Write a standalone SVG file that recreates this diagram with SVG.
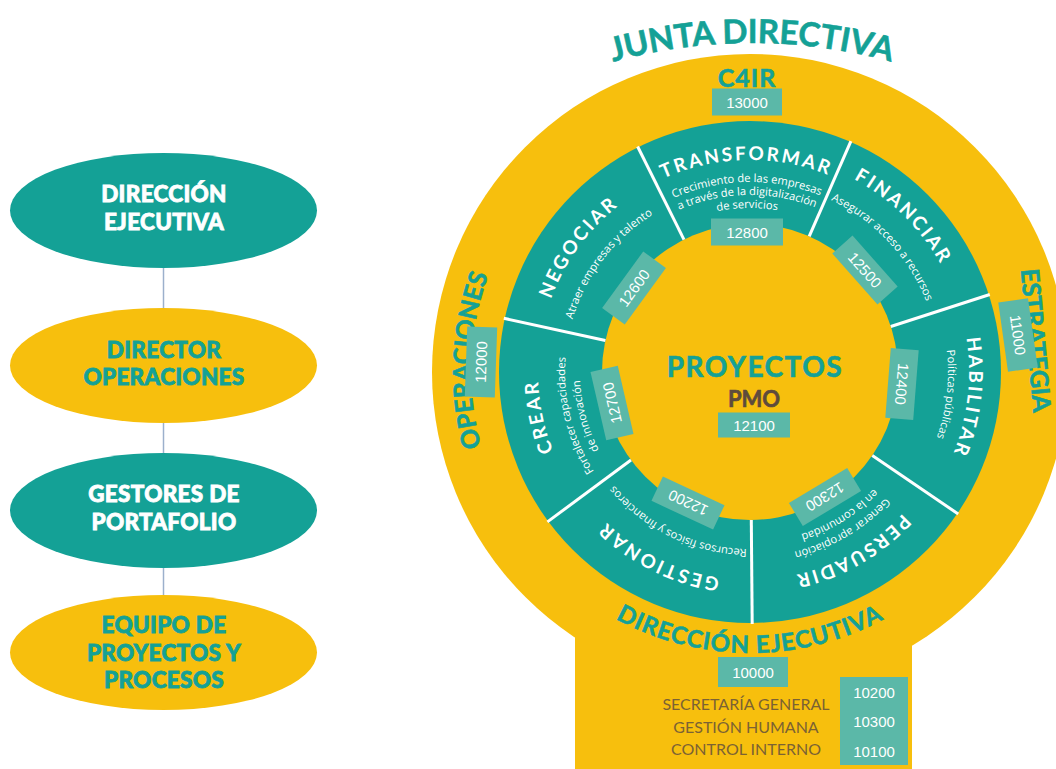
<svg xmlns="http://www.w3.org/2000/svg" width="1056" height="769" viewBox="0 0 1056 769">
<style>
.teal{fill:#14a196}
.yel{fill:#f7bf0d}
.box{fill:#5bb8a8}
.num{font-family:"Liberation Sans",Arial,sans-serif;font-size:15px;fill:#fff;text-anchor:middle}
.ttl{font-family:Lato,"Open Sans",sans-serif;font-weight:700;font-size:19px;fill:#fff;letter-spacing:2.5px}
.sub{font-family:"Open Sans",sans-serif;font-size:11.2px;fill:#fff}
.head{font-family:Lato,"Open Sans",sans-serif;font-weight:700;fill:#14a196;stroke:#14a196;stroke-width:0.6px}
.ell{font-family:Lato,"Open Sans",sans-serif;font-weight:900;font-size:22.5px;text-anchor:middle;letter-spacing:0.3px;stroke-width:0.8px}
.w{fill:#fff;stroke:#fff}
.t{fill:#14a196;stroke:#14a196}
.div{stroke:#fff;stroke-width:3;fill:none}
.conn{stroke:#9cb0cc;stroke-width:1.5;fill:none}
.dept{font-family:Lato,"Open Sans",sans-serif;font-size:16px;fill:#7b6234;text-anchor:middle}
</style>
<defs>
<path id="c164" d="M750,536 A164,164 0 0 1 750,208 A164,164 0 0 1 750,536"/>
<path id="c170" d="M750,542 A170,170 0 0 1 750,202 A170,170 0 0 1 750,542"/>
<path id="c177" d="M750,549 A177,177 0 0 1 750,195 A177,177 0 0 1 750,549"/>
<path id="c185" d="M750,557 A185,185 0 0 1 750,187 A185,185 0 0 1 750,557"/>
<path id="c190" d="M750,562 A190,190 0 0 1 750,182 A190,190 0 0 1 750,562"/>
<path id="c198" d="M750,570 A198,198 0 0 1 750,174 A198,198 0 0 1 750,570"/>
<path id="c208" d="M750,580 A208,208 0 0 1 750,164 A208,208 0 0 1 750,580"/>
<path id="c212" d="M750,584 A212,212 0 0 1 750,160 A212,212 0 0 1 750,584"/>
<path id="c219" d="M750,591 A219,219 0 0 1 750,153 A219,219 0 0 1 750,591"/>
<path id="c279" d="M750,651 A279,279 0 0 1 750,93 A279,279 0 0 1 750,651"/>
<path id="junta" d="M752,1087 A522,522 0 0 1 752,43 A522,522 0 0 1 752,1087"/>
<path id="w281" d="M750,91 A281,281 0 0 0 750,653 A281,281 0 0 0 750,91"/>
</defs>

<!-- connectors of the left hierarchy -->
<g id="connectors">
<line class="conn" x1="163.5" y1="268" x2="163.5" y2="308"/>
<line class="conn" x1="163.5" y1="423" x2="163.5" y2="453"/>
<line class="conn" x1="163.5" y1="568" x2="163.5" y2="595"/>
</g>

<g id="node-direccion-ejecutiva">
<ellipse class="teal" cx="163.5" cy="210.5" rx="153.5" ry="57.5"/>
<text class="ell w"><tspan x="164" y="202">DIRECCIÓN</tspan><tspan x="164" y="230">EJECUTIVA</tspan></text>
</g>
<g id="node-director-operaciones">
<ellipse class="yel" cx="163.5" cy="365.5" rx="153.5" ry="57.5"/>
<text class="ell t"><tspan x="164" y="358">DIRECTOR</tspan><tspan x="164" y="385">OPERACIONES</tspan></text>
</g>
<g id="node-gestores">
<ellipse class="teal" cx="163.5" cy="510.5" rx="153.5" ry="57.5"/>
<text class="ell w"><tspan x="164" y="502">GESTORES DE</tspan><tspan x="164" y="530">PORTAFOLIO</tspan></text>
</g>
<g id="node-equipo">
<ellipse class="yel" cx="163.5" cy="652.5" rx="153.5" ry="57.5"/>
<text class="ell t"><tspan x="164" y="633">EQUIPO DE</tspan><tspan x="164" y="661">PROYECTOS Y</tspan><tspan x="164" y="688">PROCESOS</tspan></text>
</g>

<!-- right wheel -->
<g id="wheel-base">
<circle class="yel" cx="750" cy="372" r="318"/>
<rect class="yel" x="575" y="560" width="337" height="209"/>
<circle class="teal" cx="750" cy="372" r="251"/>
<circle class="yel" cx="750" cy="372" r="148"/>
</g>

<g id="dividers">
<line class="div" x1="684.0" y1="239.6" x2="637.6" y2="146.5"/>
<line class="div" x1="809.2" y1="236.4" x2="850.9" y2="141.1"/>
<line class="div" x1="890.8" y1="326.5" x2="989.8" y2="294.5"/>
<line class="div" x1="872.3" y1="455.4" x2="958.2" y2="514.0"/>
<line class="div" x1="751.3" y1="520.0" x2="752.2" y2="624.0"/>
<line class="div" x1="631.0" y1="460.0" x2="547.4" y2="521.9"/>
<line class="div" x1="605.4" y1="340.5" x2="503.8" y2="318.3"/>
</g>

<g id="junta-directiva">
<text class="head" font-size="33"><textPath href="#junta" startOffset="50%" text-anchor="middle">JUNTA DIRECTIVA</textPath></text>
</g>

<g id="c4ir">
<text class="head" font-size="25" letter-spacing="1" x="747" y="87" text-anchor="middle">C4IR</text>
<g transform="translate(747,102)"><rect class="box" x="-35" y="-13.5" width="70" height="27"/><text class="num" y="5.5">13000</text></g>
</g>

<g id="operaciones">
<text class="head" font-size="25" transform="rotate(272.4 750 372)"><textPath href="#c279" startOffset="50%" text-anchor="middle">OPERACIONES</textPath></text>
<g transform="translate(481,362) rotate(272)"><rect class="box" x="-35" y="-15" width="70" height="30"/><text class="num" y="5.5">12000</text></g>
</g>

<g id="estrategia">
<text class="head" font-size="25" letter-spacing="-0.3" text-anchor="middle" transform="translate(1027,341) rotate(85)">ESTRATEGIA</text>
<g transform="translate(1018,335) rotate(82)"><rect class="box" x="-35" y="-15" width="70" height="30"/><text class="num" y="5.5">11000</text></g>
</g>

<g id="seg-transformar">
<text class="ttl" transform="rotate(-1 750 372)"><textPath href="#c212" startOffset="50%" text-anchor="middle">TRANSFORMAR</textPath></text>
<text class="sub" transform="rotate(-1 750 372)"><textPath href="#c190" startOffset="50%" text-anchor="middle">Crecimiento de las empresas</textPath></text>
<text class="sub" transform="rotate(-1 750 372)"><textPath href="#c177" startOffset="50%" text-anchor="middle">a través de la digitalización</textPath></text>
<text class="sub" transform="rotate(-1 750 372)"><textPath href="#c164" startOffset="50%" text-anchor="middle">de servicios</textPath></text>
<g transform="translate(747,232)"><rect class="box" x="-36" y="-13.5" width="72" height="27"/><text class="num" y="5.5">12800</text></g>
</g>

<g id="seg-financiar">
<text class="ttl" transform="rotate(44.6 750 372)"><textPath href="#c219" startOffset="50%" text-anchor="middle">FINANCIAR</textPath></text>
<text class="sub" transform="rotate(46.7 750 372)"><textPath href="#c190" startOffset="50%" text-anchor="middle">Asegurar acceso a recursos</textPath></text>
<g transform="translate(865,270) rotate(48.4)"><rect class="box" x="-34" y="-13.5" width="68" height="27"/><text class="num" y="5.5">12500</text></g>
</g>

<g id="seg-habilitar">
<text class="ttl" transform="rotate(96.6 750 372)"><textPath href="#c219" startOffset="50%" text-anchor="middle">HABILITAR</textPath></text>
<text class="sub" transform="rotate(96.5 750 372)"><textPath href="#c198" startOffset="50%" text-anchor="middle">Políticas públicas</textPath></text>
<g transform="translate(902,384) rotate(94.5)"><rect class="box" x="-35" y="-14" width="70" height="28"/><text class="num" y="5.5">12400</text></g>
</g>

<g id="seg-persuadir">
<text class="ttl" transform="rotate(150.3 750 372)"><textPath href="#c208" startOffset="50%" text-anchor="middle">PERSUADIR</textPath></text>
<text class="sub" transform="rotate(149.5 750 372)"><textPath href="#c185" startOffset="50%" text-anchor="middle">Generar apropiación</textPath></text>
<text class="sub" transform="rotate(148 750 372)"><textPath href="#c170" startOffset="50%" text-anchor="middle">en la comunidad</textPath></text>
<g transform="translate(825,497) rotate(149)"><rect class="box" x="-34" y="-13.5" width="68" height="27"/><text class="num" y="5.5">12300</text></g>
</g>

<g id="seg-gestionar">
<text class="ttl" transform="rotate(206.3 750 372)"><textPath href="#c208" startOffset="50%" text-anchor="middle">GESTIONAR</textPath></text>
<text class="sub" transform="rotate(205.6 750 372)"><textPath href="#c177" startOffset="50%" text-anchor="middle">Recursos físicos y financieros</textPath></text>
<g transform="translate(688,503) rotate(205)"><rect class="box" x="-34" y="-13.5" width="68" height="27"/><text class="num" y="5.5">12200</text></g>
</g>

<g id="seg-crear">
<text class="ttl" transform="rotate(258 750 372)"><textPath href="#c212" startOffset="50%" text-anchor="middle">CREAR</textPath></text>
<text class="sub" transform="rotate(256 750 372)"><textPath href="#c185" startOffset="50%" text-anchor="middle">Fortalecer capacidades</textPath></text>
<text class="sub" transform="rotate(255 750 372)"><textPath href="#c170" startOffset="50%" text-anchor="middle">de innovación</textPath></text>
<g transform="translate(612,403) rotate(257)"><rect class="box" x="-35" y="-14" width="70" height="28"/><text class="num" y="5.5">12700</text></g>
</g>

<g id="seg-negociar">
<text class="ttl" transform="rotate(306 750 372)"><textPath href="#c212" startOffset="50%" text-anchor="middle">NEGOCIAR</textPath></text>
<text class="sub" transform="rotate(307.4 750 372)"><textPath href="#c185" startOffset="50%" text-anchor="middle">Atraer empresas y talento</textPath></text>
<g transform="translate(634,288) rotate(306)"><rect class="box" x="-35" y="-14" width="70" height="28"/><text class="num" y="5.5">12600</text></g>
</g>

<g id="proyectos">
<text class="head" font-size="28" letter-spacing="1.5" x="755" y="377" text-anchor="middle">PROYECTOS</text>
<text class="head" font-size="22" x="754" y="407" text-anchor="middle" style="fill:#5e4b3c;stroke:#5e4b3c">PMO</text>
<g transform="translate(754,425)"><rect class="box" x="-36" y="-12.5" width="72" height="25"/><text class="num" y="5.5">12100</text></g>
</g>

<g id="direccion-ejecutiva">
<text class="head" font-size="24" letter-spacing="1"><textPath href="#w281" startOffset="50%" text-anchor="middle">DIRECCIÓN EJECUTIVA</textPath></text>
<g transform="translate(753,672)"><rect class="box" x="-35" y="-15" width="70" height="30"/><text class="num" y="5.5">10000</text></g>
<text class="dept" x="746" y="710">SECRETARÍA GENERAL</text>
<text class="dept" x="746" y="733">GESTIÓN HUMANA</text>
<text class="dept" x="746" y="755">CONTROL INTERNO</text>
<rect class="box" x="840" y="677" width="68" height="88"/>
<text class="num" x="874" y="698">10200</text>
<text class="num" x="874" y="727">10300</text>
<text class="num" x="874" y="757">10100</text>
</g>
</svg>
